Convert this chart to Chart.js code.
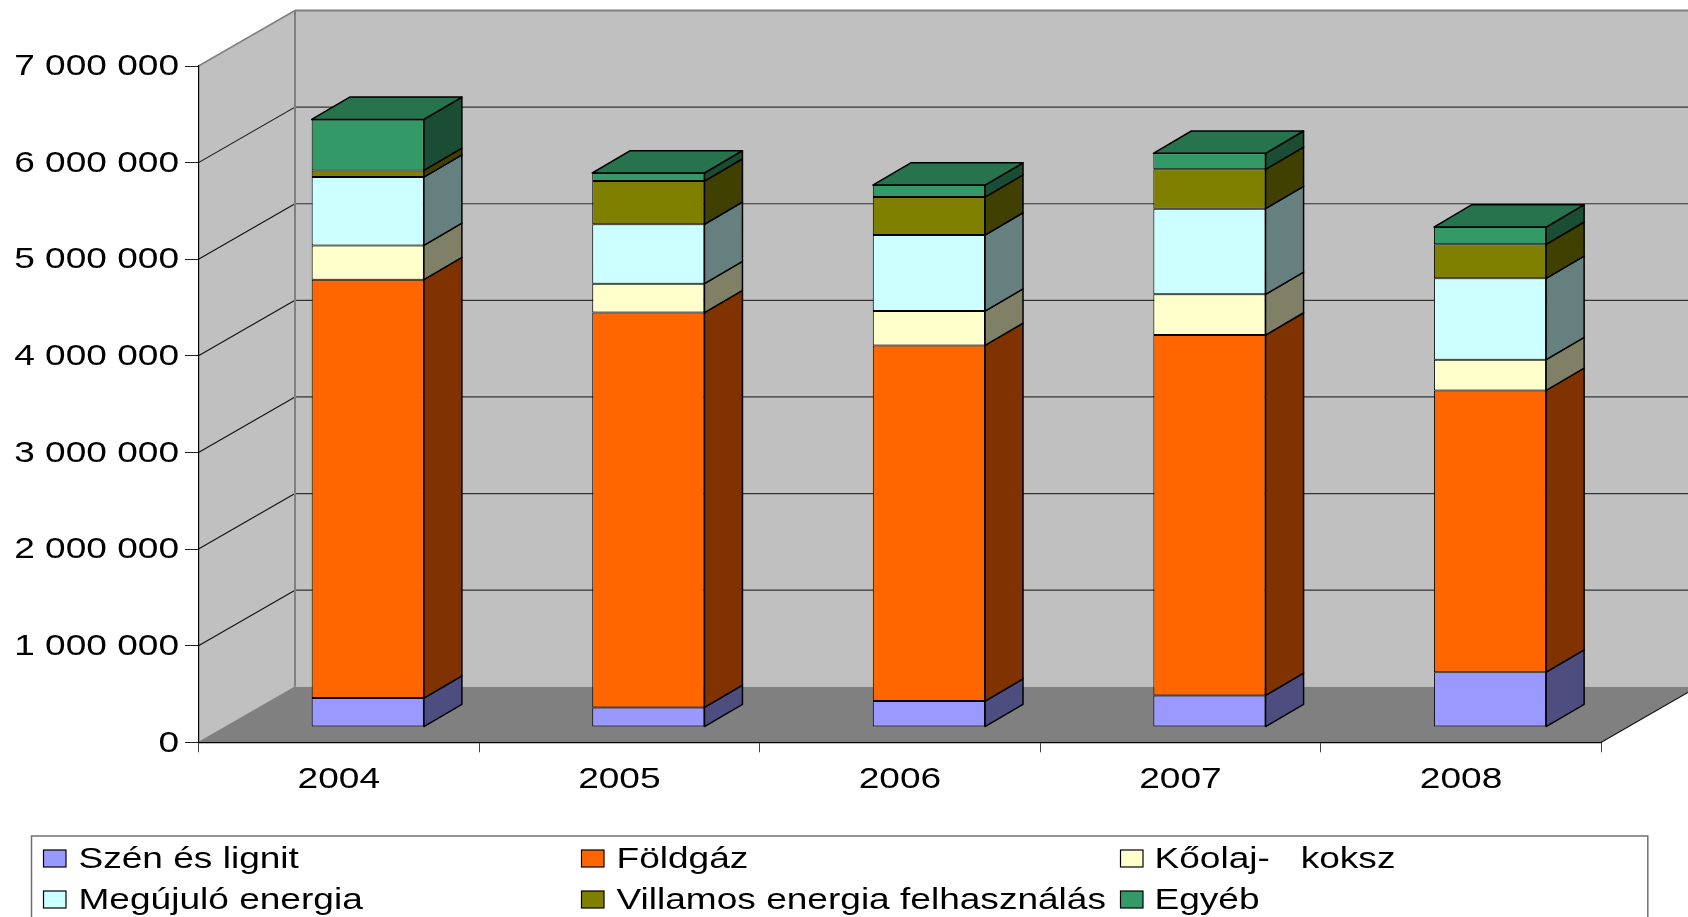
<!DOCTYPE html>
<html><head><meta charset="utf-8">
<style>html,body{margin:0;padding:0;background:#fff;overflow:hidden}canvas{display:block}</style>
<script src="https://cdn.jsdelivr.net/npm/chart.js@4"></script>
</head><body><canvas id="c" width="1688" height="917"></canvas>
<script>
const categories = ['2004','2005','2006','2007','2008'];
const yTickLabels = ['0','1 000 000','2 000 000','3 000 000','4 000 000','5 000 000','6 000 000','7 000 000'];
const seriesNames = ['Szén és lignit','Földgáz','Kőolaj-   koksz','Megújuló energia','Villamos energia felhasználás','Egyéb'];
const szen     = [300000, 204000, 269000, 328000, 569000];
const foldgaz  = [4331000, 4086000, 3682000, 3730000, 2916000];
const koolaj   = [355000, 300000, 355000, 421000, 318000];
const megujulo = [707000, 614000, 787000, 887000, 842000];
const villamos = [69000, 448000, 393000, 407000, 352000];
const egyeb    = [528000, 83000, 124000, 166000, 179000];
const seriesValues = [szen, foldgaz, koolaj, megujulo, villamos, egyeb];
const seriesColors = ['#9999FF','#FF6600','#FFFFCC','#CCFFFF','#808000','#339966'];

const FONT = '"Liberation Sans", Arial, sans-serif';
const STRETCH = 1.235;
const WALL = {dx: 96.5, dy: 55.5};
const BAR_SHIFT = {dx: 29, dy: 15.2};
const BAR_DEPTH = {dx: 38, dy: 22.3};

function shade(hex, f){
  const n = parseInt(hex.slice(1),16);
  return `rgb(${Math.round((n>>16&255)*f)},${Math.round((n>>8&255)*f)},${Math.round((n&255)*f)})`;
}
function poly(ctx, pts, fill, stroke, lw){
  ctx.beginPath();
  pts.forEach((p,i)=> i ? ctx.lineTo(p[0],p[1]) : ctx.moveTo(p[0],p[1]));
  ctx.closePath();
  if(fill){ctx.fillStyle=fill;ctx.fill();}
  if(stroke){ctx.strokeStyle=stroke;ctx.lineWidth=lw;ctx.lineJoin='round';ctx.stroke();}
}
function line(ctx,x1,y1,x2,y2,c,w){
  ctx.beginPath();ctx.moveTo(x1,y1);ctx.lineTo(x2,y2);ctx.strokeStyle=c;ctx.lineWidth=w;ctx.stroke();
}

const box3d = {
  id:'box3d',
  beforeInit(chart){
    // the reference's text is stretched sideways
    const ctx = chart.ctx, orig = ctx.fillText.bind(ctx);
    ctx.fillText = function(t,x,y){
      ctx.save();ctx.translate(x,y+1);ctx.scale(STRETCH,1);orig(t,0,0);ctx.restore();
    };
  },
  beforeDraw(chart){
    const ctx = chart.ctx, a = chart.chartArea, ys = chart.scales.y;
    const {dx,dy} = WALL;
    ctx.save();
    ctx.fillStyle='#fff';ctx.fillRect(0,0,chart.width,chart.height);
    // back wall
    poly(ctx,[[a.left+dx,a.top-dy],[a.right+dx,a.top-dy],[a.right+dx,a.bottom-dy],[a.left+dx,a.bottom-dy]],'#C0C0C0');
    // side wall
    poly(ctx,[[a.left,a.top],[a.left+dx,a.top-dy],[a.left+dx,a.bottom-dy],[a.left,a.bottom]],'#C0C0C0');
    // floor
    poly(ctx,[[a.left,a.bottom],[a.left+dx,a.bottom-dy],[a.right+dx,a.bottom-dy],[a.right,a.bottom]],'#808080');
    // grid lines
    ys.ticks.forEach(t=>{
      const y = ys.getPixelForValue(t.value);
      if(t.value>0 && t.value<ys.max){
        line(ctx,a.left,y,a.left+dx,y-dy,'#111',1.1);
        line(ctx,a.left+dx,y-dy,a.right+dx,y-dy,'#333',1.2);
      }
    });
    line(ctx,a.left,a.top,a.left+dx,a.top-dy,'#808080',1.5);
    line(ctx,a.left+dx,a.top-dy,a.right+dx,a.top-dy,'#808080',2);
    line(ctx,a.left+dx,a.top-dy,a.left+dx,a.bottom-dy,'#808080',2);
    line(ctx,a.left,a.bottom,a.left+dx,a.bottom-dy,'#808080',1);
    line(ctx,a.right,a.bottom,a.right+dx,a.bottom-dy,'#111',1.1);
    ctx.restore();
  },
  beforeDatasetsDraw(chart){
    chart.ctx.save();
    chart.ctx.translate(BAR_SHIFT.dx,-BAR_SHIFT.dy);
  },
  afterDatasetsDraw(chart){
    const ctx = chart.ctx, {dx,dy} = BAR_DEPTH;
    const n = chart.data.datasets.length;
    chart.data.datasets.forEach((ds,di)=>{
      chart.getDatasetMeta(di).data.forEach(el=>{
        const r = el.x+el.width/2, l = el.x-el.width/2;
        poly(ctx,[[r,el.base],[r+dx,el.base-dy],[r+dx,el.y-dy],[r,el.y]],shade(ds.backgroundColor,0.5),'#000',1.5);
        if(di===n-1){
          poly(ctx,[[l,el.y],[l+dx,el.y-dy],[r+dx,el.y-dy],[r,el.y]],shade(ds.backgroundColor,0.75),'#000',1.5);
        }
      });
    });
    ctx.restore();
  },
  afterDraw(chart){
    // three-column legend, partly cut by the lower edge like the reference
    const ctx = chart.ctx;
    ctx.save();
    ctx.strokeStyle='#707070';ctx.lineWidth=1.5;
    ctx.strokeRect(31.5,836,1616.3,120);
    const swatchX=[43.5,581.5,1120.5], textX=[78.5,616.5,1154.5], rowY=[858.5,899.5];
    ctx.font='30px '+FONT;ctx.textBaseline='middle';ctx.textAlign='left';
    chart.data.datasets.forEach((ds,i)=>{
      const col=i%3,row=Math.floor(i/3);
      ctx.fillStyle=ds.backgroundColor;
      ctx.fillRect(swatchX[col],rowY[row]-8.5,22.5,17);
      ctx.strokeStyle='#000';ctx.lineWidth=1.2;
      ctx.strokeRect(swatchX[col],rowY[row]-8.5,22.5,17);
      ctx.fillStyle='#000';
      ctx.fillText(ds.label,textX[col],rowY[row]);
    });
    ctx.restore();
  }
};

new Chart(document.getElementById('c'),{
  type:'bar',
  data:{
    labels:categories,
    datasets:seriesNames.map((name,i)=>({
      label:name,
      data:seriesValues[i],
      backgroundColor:seriesColors[i],
      borderColor:'#000',
      borderWidth:1,
      borderSkipped:false,
      barPercentage:0.4,
      categoryPercentage:1,
      clip:false
    }))
  },
  plugins:[box3d],
  options:{
    responsive:false,
    animation:false,
    devicePixelRatio:1,
    layout:{padding:{left:0,top:66,right:86.7,bottom:124.7}},
    plugins:{legend:{display:false},title:{display:false},tooltip:{enabled:false}},
    scales:{
      x:{
        stacked:true,
        afterFit(s){s.height=50;},
        border:{color:'#000',width:1.2},
        grid:{drawOnChartArea:false,drawTicks:true,tickLength:10,color:'#404040',lineWidth:1},
        ticks:{color:'#000',font:{family:FONT,size:30},padding:8.5,maxRotation:0,autoSkip:false}
      },
      y:{
        stacked:true,min:0,max:7000000,
        afterFit(s){s.width=198.5;},
        border:{color:'#000',width:1.2},
        grid:{drawOnChartArea:false,drawTicks:true,tickLength:13.5,color:'#222',lineWidth:1},
        ticks:{stepSize:1000000,color:'#000',font:{family:FONT,size:30},padding:6,
          callback:(v)=>yTickLabels[Math.round(v/1000000)]}
      }
    }
  }
});
</script></body></html>
